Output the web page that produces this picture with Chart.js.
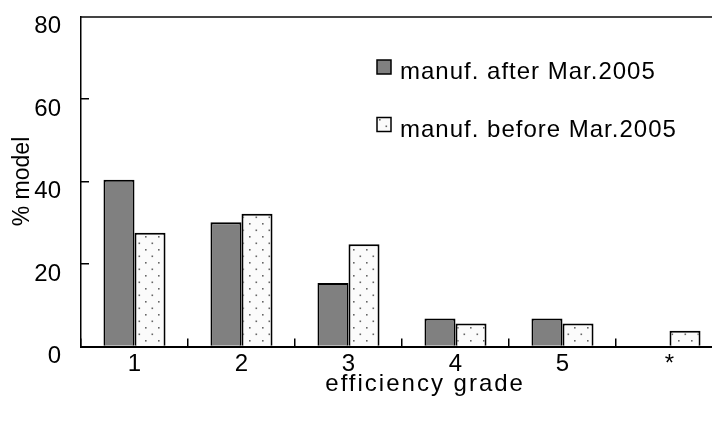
<!DOCTYPE html>
<html>
<head>
<meta charset="utf-8">
<script src="https://cdn.jsdelivr.net/npm/chart.js@4.4.1/dist/chart.umd.min.js"></script>
<style>
  html, body { margin: 0; padding: 0; background: #fff; overflow: hidden; }
</style>
</head>
<body>
<canvas id="grades" width="740" height="422"></canvas>
<script>
// values
var grades = ['1', '2', '3', '4', '5', '*'];
var afterMar2005 = [40.4, 30.1, 15.4, 6.8, 6.8, 0];
var beforeMar2005 = [27.6, 32.2, 24.8, 5.6, 5.6, 3.8];
var yTicks = [0, 20, 40, 60, 80];
var seriesNames = ['manuf. after Mar.2005', 'manuf. before Mar.2005'];
var axisNames = ['efficiency grade', '% model'];

var fontFamily = "'Liberation Sans', Arial, sans-serif";

// white tile with staggered grey dots, like the excel "dotted" fill
function dotPattern() {
  var tile = document.createElement('canvas');
  tile.width = 13;
  tile.height = 13;
  var t = tile.getContext('2d');
  t.fillStyle = '#fbfbfb';
  t.fillRect(0, 0, 13, 13);
  t.fillStyle = '#666';
  t.fillRect(2, 2, 1.6, 1.6);
  t.fillRect(8.5, 8.5, 1.6, 1.6);
  return t.createPattern(tile, 'repeat');
}

// legend sits inside the plot, top right; axis name under the labels
var insideLegend = {
  id: 'insideLegend',
  afterDraw: function(chart) {
    var ctx = chart.ctx;
    var area = chart.chartArea;
    ctx.save();
    ctx.font = '24px ' + fontFamily;
    ctx.letterSpacing = '1px';
    chart.data.datasets.forEach(function(ds, i) {
      var x = area.left + 296;
      var y = area.top + 43.5 + i * 57.5;
      ctx.fillStyle = ds.backgroundColor;
      ctx.fillRect(x, y, 14, 14);
      ctx.strokeStyle = '#000';
      ctx.lineWidth = 1.5;
      ctx.strokeRect(x, y, 14, 14);
      ctx.fillStyle = '#000';
      ctx.textBaseline = 'alphabetic';
      ctx.fillText(ds.label, x + 23, y + 19);
    });
    ctx.letterSpacing = '2px';
    ctx.textAlign = 'center';
    ctx.fillText(axisNames[0], area.left + 0.536 * (area.right - area.left), area.bottom + 44);
    ctx.restore();
  }
};

Chart.defaults.font.family = fontFamily;
Chart.defaults.font.size = 24;
Chart.defaults.color = '#000';

var chart = new Chart('grades', {
  type: 'bar',
  plugins: [insideLegend],
  data: {
    labels: grades,
    datasets: [
      {
        label: seriesNames[0],
        data: afterMar2005,
        backgroundColor: '#808080',
        borderColor: '#000',
        borderWidth: 2,
        borderSkipped: 'start',
        categoryPercentage: 0.58,
        barPercentage: 1
      },
      {
        label: seriesNames[1],
        data: beforeMar2005,
        backgroundColor: dotPattern(),
        borderColor: '#000',
        borderWidth: 2,
        borderSkipped: 'start',
        categoryPercentage: 0.58,
        barPercentage: 1
      }
    ]
  },
  options: {
    responsive: false,
    animation: false,
    layout: { padding: { left: 0, top: 16.5, right: 17, bottom: 45.5 } },
    plugins: {
      legend: { display: false },
      tooltip: { enabled: false }
    },
    scales: {
      x: {
        type: 'category',
        position: 'bottom',
        offset: true,
        afterFit: function(scale) { scale.height = 30; },
        grid: {
          offset: true,
          drawOnChartArea: false,
          tickLength: -8,
          color: '#000',
          lineWidth: 1.5
        },
        border: { color: '#000', width: 2 },
        ticks: { padding: 11, maxRotation: 0, autoSkip: false }
      },
      xTop: {
        type: 'category',
        position: 'top',
        afterFit: function(scale) { scale.height = 0; },
        grid: { display: false, drawTicks: false },
        border: { color: '#444', width: 2 },
        ticks: { display: false }
      },
      y: {
        min: 0,
        max: 80,
        afterBuildTicks: function(scale) {
          scale.ticks = yTicks.map(function(v) { return { value: v }; });
        },
        afterFit: function(scale) {
          scale.width = 81;
          scale.paddingTop = 0;
          scale.paddingBottom = 0;
        },
        grid: {
          drawOnChartArea: false,
          tickLength: -8,
          color: '#000',
          lineWidth: 1.5
        },
        border: { color: '#000', width: 1.5 },
        ticks: { padding: 28, labelOffset: 10 },
        title: {
          display: true,
          text: axisNames[1],
          font: { size: 23 },
          padding: { top: 9, bottom: 0 }
        }
      }
    }
  }
});
</script>
</body>
</html>
